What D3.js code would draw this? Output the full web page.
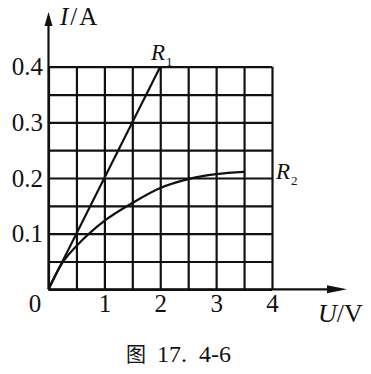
<!DOCTYPE html>
<html><head><meta charset="utf-8">
<script src="https://cdn.jsdelivr.net/npm/d3@7"></script>
<style>
html,body{margin:0;padding:0;background:#fff;}
svg{display:block;}
</style></head>
<body>
<script>
// Data
const xTickValues = [1, 2, 3, 4];
const yTickValues = [0.1, 0.2, 0.3, 0.4];
const xGridValues = [0, 0.5, 1, 1.5, 2, 2.5, 3, 3.5, 4];
const yGridValues = [0, 0.05, 0.1, 0.15, 0.2, 0.25, 0.3, 0.35, 0.4];
const r1U = [0, 2];
const r1I = [0, 0.4];
const r2U = [0, 0.25, 0.5, 1.0, 1.5, 2.0, 2.5, 3.0, 3.5];
const r2I = [0, 0.048, 0.078, 0.123, 0.155, 0.182, 0.198, 0.207, 0.211];
const seriesNames = ["R1", "R2"];

const W = 371, H = 374;
const ink = "#111";
const serif = "Liberation Serif, DejaVu Serif, serif";

const svg = d3.select("body").append("svg").attr("width", W).attr("height", H)
  .style("background", "#fff");

const x = d3.scaleLinear().domain([0, 4]).range([48.5, 272]);
const y = d3.scaleLinear().domain([0, 0.4]).range([289.3, 66.7]);

// Grid via axes
const gx = svg.append("g").attr("transform", `translate(0,${y(0)})`)
  .call(d3.axisBottom(x).tickValues(xGridValues).tickSize(-(y(0) - y(0.4))).tickFormat(""));
gx.select(".domain").remove();
gx.selectAll("line").attr("stroke", ink).attr("stroke-width", 2.2);

const gy = svg.append("g").attr("transform", `translate(${x(0)},0)`)
  .call(d3.axisLeft(y).tickValues(yGridValues).tickSize(-(x(4) - x(0))).tickFormat(""));
gy.select(".domain").remove();
gy.selectAll("line").attr("stroke", ink).attr("stroke-width", 2.2);

// Tick labels
const ax = svg.append("g").attr("transform", `translate(0,${y(0)})`)
  .call(d3.axisBottom(x).tickValues(xTickValues).tickSize(0).tickPadding(5).tickFormat(d3.format("d")));
ax.select(".domain").remove();
ax.attr("font-family", serif).attr("font-size", 25);
ax.selectAll("text").attr("fill", ink);

const ay = svg.append("g").attr("transform", `translate(${x(0)},0)`)
  .call(d3.axisLeft(y).tickValues(yTickValues).tickSize(0).tickPadding(5.5).tickFormat(d3.format(".1f")));
ay.select(".domain").remove();
ay.attr("font-family", serif).attr("font-size", 25);
ay.selectAll("text").attr("fill", ink);

// Origin label
svg.append("text").attr("x", 35).attr("y", 311.5).attr("text-anchor", "middle")
  .attr("font-family", serif).attr("font-size", 25).attr("fill", ink).text("0");

// Axis lines with arrows
svg.append("line").attr("x1", x(0)).attr("y1", y(0)).attr("x2", x(0)).attr("y2", 20)
  .attr("stroke", ink).attr("stroke-width", 2.2);
svg.append("path").attr("d", `M${x(0)},12 L${x(0) - 4},26 L${x(0) + 4},26 Z`).attr("fill", ink);
svg.append("line").attr("x1", x(0)).attr("y1", y(0)).attr("x2", 340).attr("y2", y(0))
  .attr("stroke", ink).attr("stroke-width", 2.2);
svg.append("path").attr("d", `M347,${y(0)} L327,${y(0) - 4} L327,${y(0) + 4} Z`).attr("fill", ink);

// Series
const line = d3.line().x(d => x(d[0])).y(d => y(d[1]));
svg.append("path").datum(r1U.map((u, i) => [u, r1I[i]]))
  .attr("d", line).attr("fill", "none").attr("stroke", ink).attr("stroke-width", 2.2);
svg.append("path").datum(r2U.map((u, i) => [u, r2I[i]]))
  .attr("d", line.curve(d3.curveCatmullRom.alpha(0.5))).attr("fill", "none").attr("stroke", ink).attr("stroke-width", 2.2);

// Series labels
function rLabel(px, py, sub) {
  const t = svg.append("text").attr("x", px).attr("y", py).attr("font-family", serif).attr("fill", ink);
  t.append("tspan").attr("font-style", "italic").attr("font-size", 23).text("R");
  t.append("tspan").attr("font-size", 13).attr("dy", 6).attr("dx", 1).text(sub);
}
rLabel(151, 59.5, "1");
rLabel(276, 178.5, "2");

// Axis titles
const ta = svg.append("text").attr("x", 60).attr("y", 25).attr("font-family", serif)
  .attr("font-size", 25).attr("fill", ink);
ta.append("tspan").attr("font-style", "italic").text("I");
ta.append("tspan").attr("dx", 2).text("/");
ta.append("tspan").attr("dx", 2).text("A");

const tu = svg.append("text").attr("x", 318).attr("y", 321.5).attr("font-family", serif)
  .attr("font-size", 26).attr("fill", ink);
tu.append("tspan").attr("font-style", "italic").text("U");
tu.append("tspan").text("/V");

// Caption
const cap = svg.append("text").attr("x", 126).attr("y", 362).attr("fill", ink);
cap.append("tspan").attr("font-family", "Noto Sans CJK SC, sans-serif").attr("font-size", 20).text("图");
cap.append("tspan").attr("font-family", serif).attr("font-size", 24).attr("dx", 11).text("17.");
cap.append("tspan").attr("font-family", serif).attr("font-size", 24).attr("dx", 12).text("4-6");
</script>
</body></html>
